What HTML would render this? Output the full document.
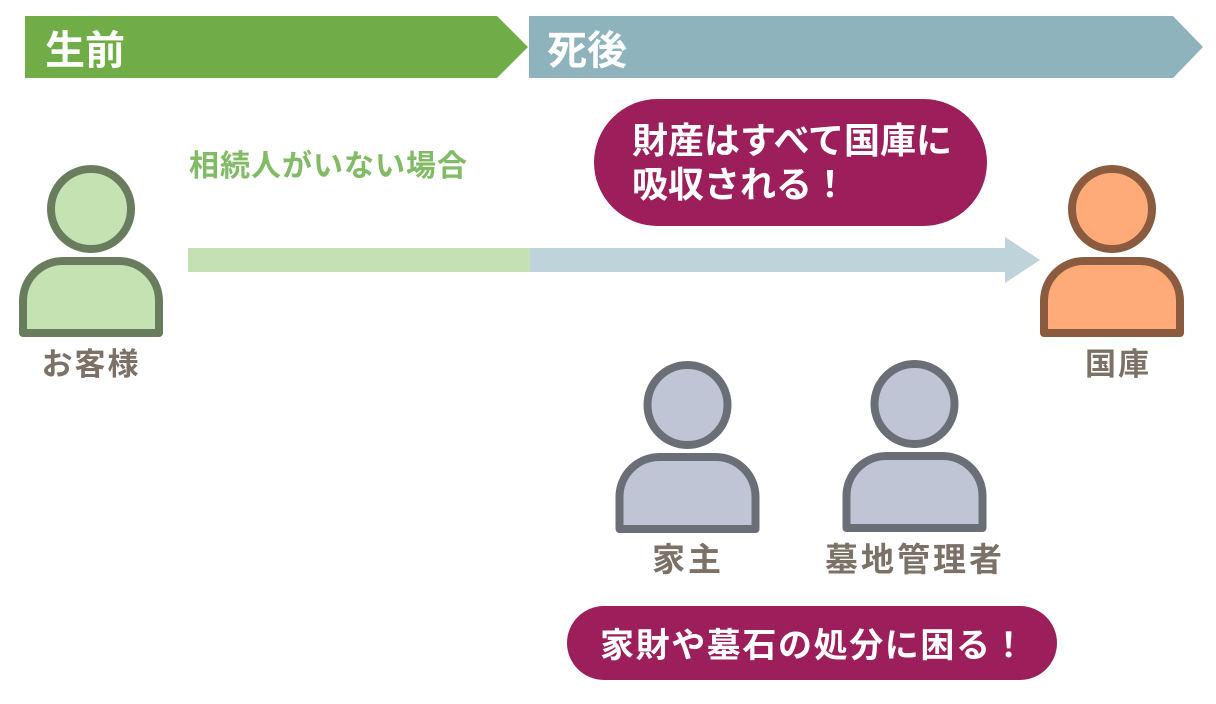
<!DOCTYPE html>
<html><head><meta charset="utf-8"><style>
html,body{margin:0;padding:0;background:#fff;}
svg{display:block;}
text{font-family:"Liberation Sans","Noto Sans CJK JP",sans-serif;font-weight:bold;}
</style></head><body>
<svg width="1216" height="704" viewBox="0 0 1216 704" xmlns="http://www.w3.org/2000/svg">
<rect width="1216" height="704" fill="#fff"/>
<!-- banners -->
<polygon points="25,16 497,16 528,47 497,78 25,78" fill="#70ad47"/>
<polygon points="529,16 1173,16 1203,47 1173,78 529,78" fill="#8fb3bd"/>
<text x="45" y="64" font-size="40" fill="#fff">生前</text>
<text x="547" y="64" font-size="40" fill="#fff">死後</text>

<!-- label -->
<text x="189" y="176" font-size="30" fill="#82bb65" letter-spacing="1">相続人がいない場合</text>

<!-- arrow -->
<rect x="188" y="248" width="344" height="24" fill="#c5e0b4"/>
<rect x="530" y="248" width="476" height="24" fill="#bed3da"/>
<polygon points="1005,237 1040,260 1005,283" fill="#bed3da"/>

<!-- top pill -->
<rect x="594" y="99" width="393" height="127" rx="63.5" fill="#9c1f5c"/>
<text x="632" y="153" font-size="36" fill="#fff">財産はすべて国庫に</text>
<text x="632" y="197" font-size="36" fill="#fff">吸収される！</text>

<!-- person: お客様 -->
<g fill="#c5e3b2" stroke="#6a7c5e" stroke-width="8">
<circle cx="91" cy="209" r="40"/>
<path d="M23,333 L23,301 A40,40 0 0 1 63,261 L119,261 A40,40 0 0 1 159,301 L159,333 Z" stroke-linejoin="round"/>
</g>
<text x="91" y="375" font-size="31" fill="#7b7166" text-anchor="middle" letter-spacing="2">お客様</text>

<!-- person: 国庫 -->
<g fill="#ffaa78" stroke="#8b5b40" stroke-width="8">
<circle cx="1112" cy="209" r="40"/>
<path d="M1044,333 L1044,301 A40,40 0 0 1 1084,261 L1140,261 A40,40 0 0 1 1180,301 L1180,333 Z" stroke-linejoin="round"/>
</g>
<text x="1118" y="375" font-size="31" fill="#7b7166" text-anchor="middle" letter-spacing="2">国庫</text>

<!-- person: 家主 -->
<g fill="#bfc5d5" stroke="#6a6e76" stroke-width="8">
<circle cx="687.5" cy="405" r="40"/>
<path d="M619.5,529 L619.5,497 A40,40 0 0 1 659.5,457 L715.5,457 A40,40 0 0 1 755.5,497 L755.5,529 Z" stroke-linejoin="round"/>
</g>
<text x="688" y="571" font-size="33" fill="#7b7166" text-anchor="middle" letter-spacing="3">家主</text>

<!-- person: 墓地管理者 -->
<g fill="#bfc5d5" stroke="#6a6e76" stroke-width="8">
<circle cx="914.5" cy="404" r="40"/>
<path d="M846.5,528 L846.5,496 A40,40 0 0 1 886.5,456 L942.5,456 A40,40 0 0 1 982.5,496 L982.5,528 Z" stroke-linejoin="round"/>
</g>
<text x="915" y="571" font-size="33" fill="#7b7166" text-anchor="middle" letter-spacing="3">墓地管理者</text>

<!-- bottom pill -->
<rect x="567" y="606" width="490" height="74" rx="37" fill="#9c1f5c"/>
<text x="600" y="657" font-size="34" fill="#fff" letter-spacing="1.6">家財や墓石の処分に困る！</text>
</svg>
</body></html>
